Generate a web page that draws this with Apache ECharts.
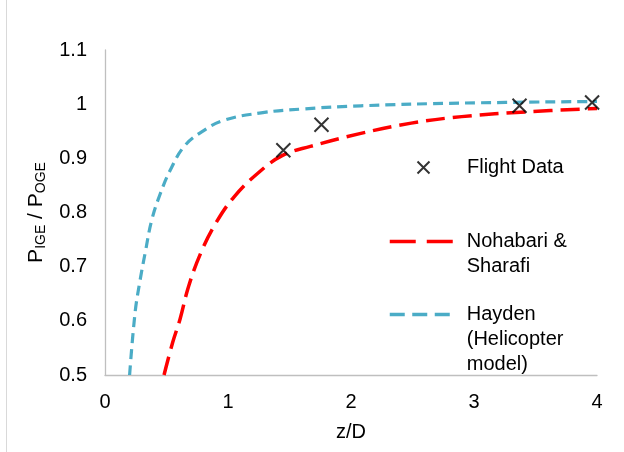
<!DOCTYPE html>
<html><head><meta charset="utf-8">
<script src="https://cdn.jsdelivr.net/npm/echarts@6/dist/echarts.min.js"></script>
<style>html,body{margin:0;padding:0;background:#fff}#c{width:624px;height:452px}</style>
</head><body><div id="c"></div>
<script>
// Flight data (z/D, P_IGE/P_OGE)
const flightZ = [1.45, 1.76, 3.37, 3.96];
const flightP = [0.915, 0.962, 0.997, 1.003];
// Nohabari & Sharafi model
const nohZ = [0.48, 0.55, 0.61, 0.68, 0.78, 0.90, 1.05, 1.24, 1.44, 1.67, 2.08, 2.49, 2.90, 3.44, 4.0];
const nohP = [0.50, 0.56, 0.603, 0.664, 0.726, 0.78, 0.829, 0.872, 0.905, 0.922, 0.946, 0.965, 0.977, 0.986, 0.992];
// Hayden (Helicopter model)
const hayZ = [0.2, 0.245, 0.286, 0.327, 0.38, 0.45, 0.53, 0.64, 0.78, 0.965, 1.27, 1.6, 2.08, 2.9, 4.0];
const hayP = [0.5, 0.616, 0.676, 0.726, 0.786, 0.835, 0.878, 0.921, 0.948, 0.970, 0.984, 0.991, 0.997, 1.002, 1.005];
const xTicks = [0, 1, 2, 3, 4];
const yTicks = [0.5, 0.6, 0.7, 0.8, 0.9, 1, 1.1];
const names = ['Flight Data', 'Nohabari &\nSharafi', 'Hayden\n(Helicopter\nmodel)'];

const zip = (a, b) => a.map((v, i) => [v, b[i]]);
const font = 'Liberation Sans, Arial, sans-serif';
const FS = 20;
const chart = echarts.init(document.getElementById('c'), null, {renderer: 'canvas'});
const legendText = (padL) => ({fontFamily: font, fontSize: FS, color: '#000', lineHeight: 25, padding: [0, 0, 0, padL]});
// pad with empty lines above so the icon sits on the first text line
const topAlign = name => {
  const n = name.split('\n').length;
  return '\n'.repeat(n - 1) + name;
};
chart.setOption({
  animation: false,
  grid: {left: 105, right: 27, top: 50, bottom: 77, containLabel: false},
  xAxis: {
    type: 'value', min: xTicks[0], max: xTicks[xTicks.length - 1], interval: 1,
    name: 'z/D', nameLocation: 'middle', nameGap: 47,
    nameTextStyle: {fontFamily: font, fontSize: FS, color: '#000'},
    axisLine: {lineStyle: {color: '#bfbfbf', width: 1.3}},
    axisTick: {show: false}, splitLine: {show: false},
    axisLabel: {fontFamily: font, fontSize: FS, color: '#000', margin: 17}
  },
  yAxis: {
    type: 'value', min: yTicks[0], max: yTicks[yTicks.length - 1], interval: 0.1,
    name: '{p|P}{s|IGE}{p| / P}{s|OGE}', nameLocation: 'middle', nameGap: 55, nameRotate: 90,
    nameTextStyle: {
      fontFamily: font, fontSize: FS, color: '#000',
      rich: {
        p: {fontFamily: font, fontSize: 21, color: '#000'},
        s: {fontFamily: font, fontSize: 14, color: '#000', padding: [10, 0, 0, 0]}
      }
    },
    axisLine: {show: true, lineStyle: {color: '#bfbfbf', width: 1.3}},
    axisTick: {show: false}, splitLine: {show: false},
    axisLabel: {fontFamily: font, fontSize: FS, color: '#000', margin: 18,
      formatter: v => String(Math.round(v * 10) / 10)}
  },
  legend: [
    {data: [{name: names[0]}], left: 410, top: 150, orient: 'vertical', itemWidth: 63, itemHeight: 12,
     textStyle: legendText(7), formatter: topAlign},
    {data: [{name: names[1]}], left: 383, top: 199, orient: 'vertical', itemWidth: 63, itemHeight: 12,
     itemStyle: {opacity: 0}, lineStyle: {width: 3.5, type: [26, 11]},
     textStyle: legendText(9), formatter: topAlign},
    {data: [{name: names[2]}], left: 383, top: 247, orient: 'vertical', itemWidth: 63, itemHeight: 12,
     itemStyle: {opacity: 0}, lineStyle: {width: 3.5, type: [15, 7.5]},
     textStyle: legendText(9), formatter: topAlign}
  ],
  series: [
    {name: names[0], type: 'scatter', data: zip(flightZ, flightP),
     symbol: 'path://M0,0L10,10M10,0L0,10', symbolSize: 14,
     itemStyle: {color: 'none', borderColor: '#000', borderWidth: 2}, z: 5},
    {name: names[1], type: 'line', data: zip(nohZ, nohP), smooth: 0.4, symbol: 'none',
     itemStyle: {color: '#ff0000'},
     lineStyle: {color: '#ff0000', width: 3.5, type: [19, 8]}},
    {name: names[2], type: 'line', data: zip(hayZ, hayP), smooth: 0.4, symbol: 'none',
     itemStyle: {color: '#4bacc6'},
     lineStyle: {color: '#4bacc6', width: 3.2, type: [10, 6]}}
  ],
  graphic: [
    {type: 'line', shape: {x1: 6.5, y1: 0, x2: 6.5, y2: 452}, style: {stroke: '#d9d9d9', lineWidth: 1}}
  ]
});
</script></body></html>
